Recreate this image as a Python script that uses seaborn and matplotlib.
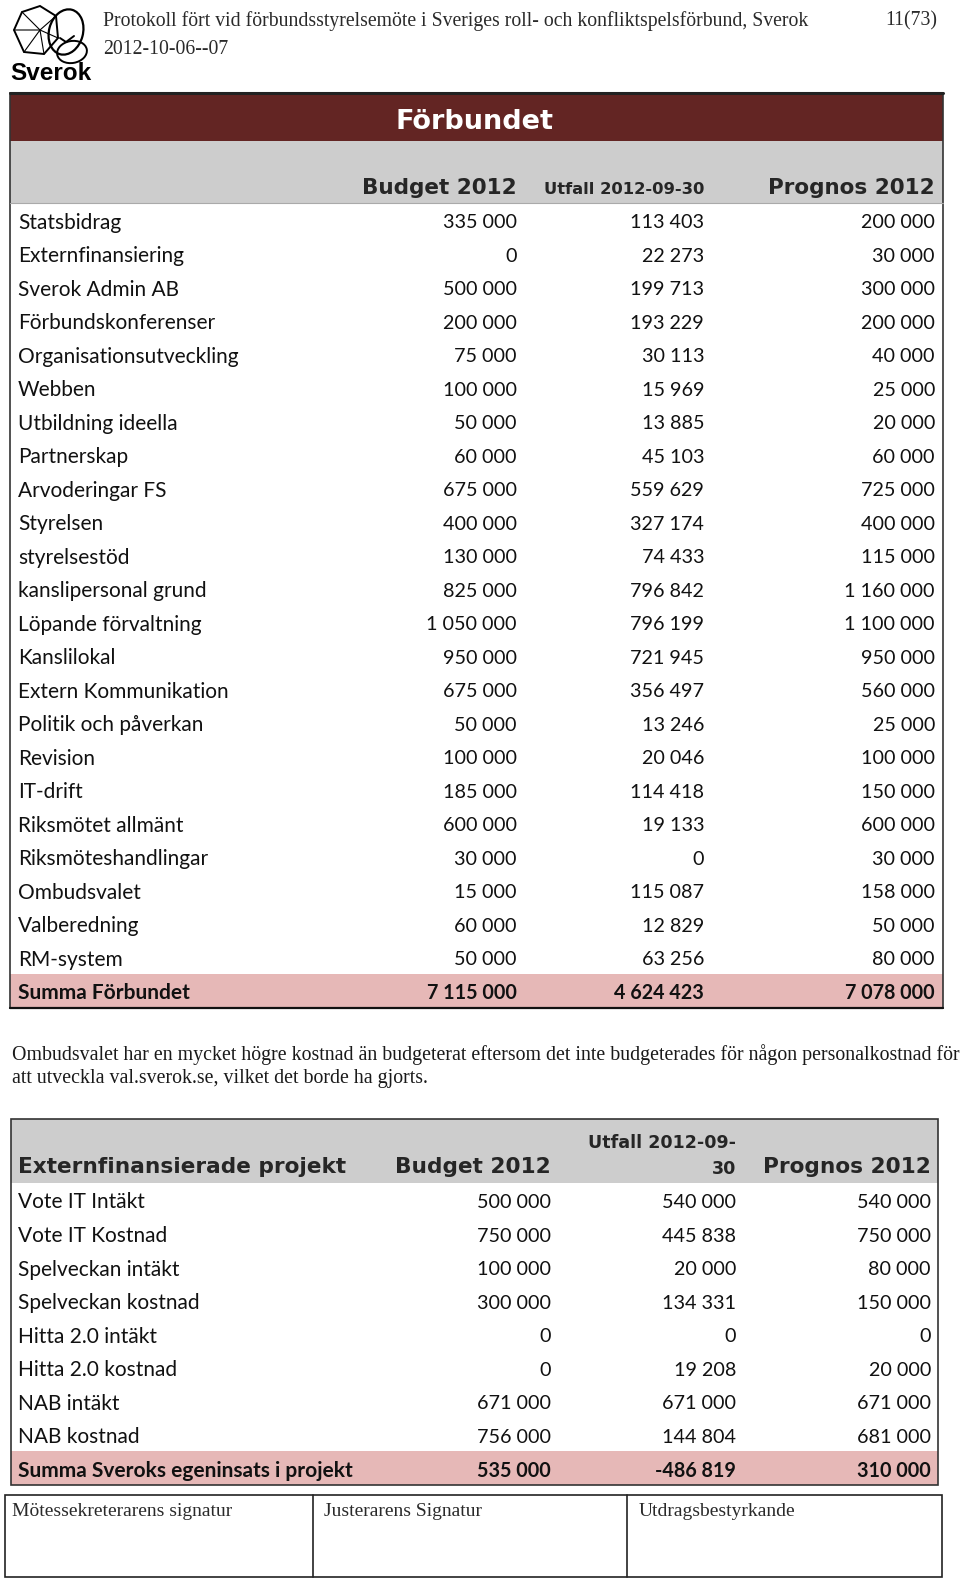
import matplotlib
matplotlib.use("Agg")
import matplotlib.pyplot as plt
from matplotlib.colors import ListedColormap
from matplotlib.patches import Rectangle, Polygon, Ellipse
from matplotlib.transforms import blended_transform_factory
import numpy as np
import seaborn as sns

# --- data ---
forb_names = ["Statsbidrag", "Externfinansiering", "Sverok Admin AB", "Förbundskonferenser",
              "Organisationsutveckling", "Webben", "Utbildning ideella", "Partnerskap",
              "Arvoderingar FS", "Styrelsen", "styrelsestöd", "kanslipersonal grund",
              "Löpande förvaltning", "Kanslilokal", "Extern Kommunikation", "Politik och påverkan",
              "Revision", "IT-drift", "Riksmötet allmänt", "Riksmöteshandlingar",
              "Ombudsvalet", "Valberedning", "RM-system"]
forb_budget = [335000, 0, 500000, 200000, 75000, 100000, 50000, 60000, 675000, 400000,
               130000, 825000, 1050000, 950000, 675000, 50000, 100000, 185000, 600000,
               30000, 15000, 60000, 50000]
forb_utfall = [113403, 22273, 199713, 193229, 30113, 15969, 13885, 45103, 559629, 327174,
               74433, 796842, 796199, 721945, 356497, 13246, 20046, 114418, 19133,
               0, 115087, 12829, 63256]
forb_prognos = [200000, 30000, 300000, 200000, 40000, 25000, 20000, 60000, 725000, 400000,
                115000, 1160000, 1100000, 950000, 560000, 25000, 100000, 150000, 600000,
                30000, 158000, 50000, 80000]
forb_total = ["Summa Förbundet", 7115000, 4624423, 7078000]

proj_names = ["Vote IT Intäkt", "Vote IT Kostnad", "Spelveckan intäkt", "Spelveckan kostnad",
              "Hitta 2.0 intäkt", "Hitta 2.0 kostnad", "NAB intäkt", "NAB kostnad"]
proj_budget = [500000, 750000, 100000, 300000, 0, 0, 671000, 756000]
proj_utfall = [540000, 445838, 20000, 134331, 0, 19208, 671000, 144804]
proj_prognos = [540000, 750000, 80000, 150000, 0, 20000, 671000, 681000]
proj_total = ["Summa Sveroks egeninsats i projekt", 535000, -486819, 310000]

sns.set_theme(style="white")
plt.rcParams["font.family"] = ["Lato", "DejaVu Sans"]

W, H = 960, 1579
fig = plt.figure(figsize=(W / 100, H / 100), dpi=100)
ax = fig.add_axes([0, 0, 1, 1])
ax.set_xlim(0, W)
ax.set_ylim(H, 0)
ax.axis("off")
ax.patch.set_alpha(0)
ax.set_zorder(2)

SERIF = ["Liberation Serif", "DejaVu Serif"]
BODY = ["Lato", "DejaVu Sans"]
HEAD = ["DejaVu Sans"]
DARKRED = "#632523"
GREY = "#CDCDCD"
PINK = "#E6B8B7"
INK = "#111111"
DY = 0.08  # text sits a little below the row centre, like Calibri in Excel


def fmt(v):
    return f"{v:,}".replace(",", " ")


def px_axes(x0, y0, x1, y1):
    return fig.add_axes([x0 / W, 1 - y1 / H, (x1 - x0) / W, (y1 - y0) / H])


def body_table(names, cols, total, x0, x1, y0, y1, col_x):
    n = len(names) + 1
    kind = np.zeros((n, 1))
    kind[-1, 0] = 1
    hx = px_axes(x0, y0, x1, y1)
    hx.set_zorder(1)
    sns.heatmap(kind, ax=hx, cmap=ListedColormap(["white", PINK]), vmin=0, vmax=1,
                cbar=False, xticklabels=False, yticklabels=False, linewidths=0)
    tr = blended_transform_factory(ax.transData, hx.transData)
    for i, name in enumerate(names):
        hx.text(18, i + 0.5 + DY, name, transform=tr, ha="left", va="center",
                fontsize=15, family=BODY, color=INK)
        for cx, col in zip(col_x, cols):
            hx.text(cx, i + 0.5 + DY, fmt(col[i]), transform=tr, ha="right", va="center",
                    fontsize=14.2, family=BODY, color=INK)
    hx.text(18, n - 0.5 + DY, total[0], transform=tr, ha="left", va="center",
            fontsize=15, family=BODY, fontweight="bold", color=INK)
    for cx, v in zip(col_x, total[1:]):
        hx.text(cx, n - 0.5 + DY, fmt(v), transform=tr, ha="right", va="center",
                fontsize=14.2, family=BODY, fontweight="bold", color=INK)
    return hx


# --- page header ---
ax.text(103, 21, "Protokoll fört vid förbundsstyrelsemöte i Sveriges roll- och konfliktspelsförbund, Sverok",
        fontsize=14.2, family=SERIF, color="#2a2a2a", ha="left", va="center")
ax.text(937, 21, "11(73)", fontsize=14.2, family=SERIF, color="#2a2a2a", ha="right", va="center")
ax.text(103, 50, "2012-10-06--07", fontsize=14.2, family=SERIF, color="#2a2a2a", ha="left", va="center")
# simple logo: die + mask
ax.add_patch(Polygon([[14, 30], [22, 12], [40, 6], [56, 16], [58, 38], [44, 54], [24, 52]],
                     closed=True, fill=False, lw=1.4, ec="black"))
ax.plot([22, 40, 56], [12, 30, 16], color="black", lw=0.8)
ax.plot([14, 40, 58], [30, 30, 38], color="black", lw=0.8)
ax.plot([24, 40, 44], [52, 30, 54], color="black", lw=0.8)
ax.add_patch(Ellipse((66, 32), 34, 46, angle=15, fill=False, lw=1.6, ec="black"))
ax.add_patch(Ellipse((72, 52), 30, 22, angle=-10, fill=False, lw=1.4, ec="black"))
ax.plot([60, 66, 74], [38, 42, 36], color="black", lw=1.4)
ax.text(10, 73, "Sverok", fontsize=17.5, family=["Liberation Sans", "DejaVu Sans"],
        fontweight="bold", ha="left", va="center", color="black")

# --- table 1: Förbundet ---
ax.add_patch(Rectangle((10, 93), 933, 48, color=DARKRED, lw=0))
ax.add_patch(Rectangle((10, 141), 933, 62, color=GREY, lw=0))
ax.plot([10, 943], [92.5, 92.5], color="#222222", lw=2.2)
ax.plot([10, 943], [203, 203], color="#aaaaaa", lw=0.8)
ax.text(474, 122, "Förbundet", fontsize=19.5, family=HEAD, fontweight="bold",
        color="white", ha="center", va="center")
ax.text(517, 188, "Budget 2012", fontsize=15.5, family=HEAD, fontweight="bold", ha="right", va="center")
ax.text(704, 189, "Utfall 2012-09-30", fontsize=11.8, family=HEAD, fontweight="bold", ha="right", va="center")
ax.text(935, 188, "Prognos 2012", fontsize=15.5, family=HEAD, fontweight="bold", ha="right", va="center")
body_table(forb_names, [forb_budget, forb_utfall, forb_prognos], forb_total,
           10, 943, 203.5, 1007.5, [517, 704, 935])
ax.add_patch(Rectangle((10, 92.5), 933, 915, fill=False, ec="#333333", lw=1.2))
ax.plot([10, 943], [1007.5, 1007.5], color="#111111", lw=1.6)

# --- paragraph ---
ax.text(12, 1055, "Ombudsvalet har en mycket högre kostnad än budgeterat eftersom det inte budgeterades för någon personalkostnad för",
        fontsize=14.3, family=SERIF, color="#1a1a1a", ha="left", va="center")
ax.text(12, 1078, "att utveckla val.sverok.se, vilket det borde ha gjorts.",
        fontsize=14.3, family=SERIF, color="#1a1a1a", ha="left", va="center")

# --- table 2: Externfinansierade projekt ---
ax.add_patch(Rectangle((11, 1119), 927, 64, color=GREY, lw=0))
ax.text(18, 1167, "Externfinansierade projekt", fontsize=15.6, family=HEAD, fontweight="bold",
        ha="left", va="center")
ax.text(551, 1167, "Budget 2012", fontsize=15.6, family=HEAD, fontweight="bold", ha="right", va="center")
ax.text(736, 1143, "Utfall 2012-09-", fontsize=12.6, family=HEAD, fontweight="bold", ha="right", va="center")
ax.text(736, 1169, "30", fontsize=12.6, family=HEAD, fontweight="bold", ha="right", va="center")
ax.text(931, 1167, "Prognos 2012", fontsize=15.6, family=HEAD, fontweight="bold", ha="right", va="center")
body_table(proj_names, [proj_budget, proj_utfall, proj_prognos], proj_total,
           11, 938, 1183, 1485, [551, 736, 931])
ax.add_patch(Rectangle((11, 1119), 927, 366, fill=False, ec="#333333", lw=1.2))

# --- signature box ---
ax.add_patch(Rectangle((5, 1495), 937, 82, fill=False, ec="#222222", lw=1.2))
for xd in [313, 627]:
    ax.plot([xd, xd], [1495, 1577], color="#222222", lw=1.2)
for xt, lab in zip([12, 324, 639], ["Mötessekreterarens signatur", "Justerarens Signatur", "Utdragsbestyrkande"]):
    ax.text(xt, 1512, lab, fontsize=14, family=SERIF, color="#2a2a2a", ha="left", va="center")

fig.savefig("out.png", dpi=100)
